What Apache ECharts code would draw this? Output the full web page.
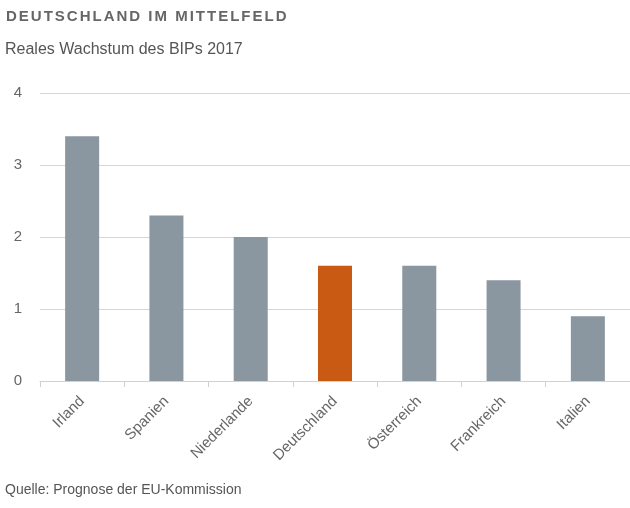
<!DOCTYPE html>
<html><head><meta charset="utf-8">
<script src="https://cdn.jsdelivr.net/npm/echarts@6/dist/echarts.min.js"></script>
<style>
html,body{margin:0;padding:0;background:#fff}
#wrap{position:relative;width:630px;height:508px}
#c{width:630px;height:508px}
#t{position:absolute;left:6px;top:7px;font:bold 15px 'Liberation Sans',Arial,sans-serif;letter-spacing:2px;color:#666;white-space:nowrap}
</style>
</head><body><div id="wrap"><div id="c"></div><div id="t">DEUTSCHLAND IM MITTELFELD</div></div>
<script>
var categories = ['Irland','Spanien','Niederlande','Deutschland','Österreich','Frankreich','Italien'];
var values = [3.4, 2.3, 2.0, 1.6, 1.6, 1.4, 0.9];
var highlight = 'Deutschland';
var yTicks = [0,1,2,3,4];
var chart = echarts.init(document.getElementById('c'));
var ff = 'Liberation Sans, Arial, sans-serif';
chart.setOption({
  animation:false,
  textStyle:{fontFamily:ff},
  title:[
    {text:'Reales Wachstum des BIPs 2017',left:5,top:42,padding:0,textStyle:{fontSize:16,fontWeight:'normal',color:'#555',fontFamily:ff}},
    {text:'Quelle: Prognose der EU-Kommission',left:5,top:483,padding:0,textStyle:{fontSize:14,fontWeight:'normal',color:'#555',fontFamily:ff}}
  ],
  grid:{left:40,top:93,width:595,height:288,containLabel:false},
  xAxis:{type:'category',data:categories,
    axisLine:{lineStyle:{color:'#d4d0ca'}},
    axisTick:{show:true,length:6,lineStyle:{color:'#d4d0ca'}},
    axisLabel:{rotate:45,margin:18,fontSize:15,color:'#666'}},
  yAxis:{type:'value',min:yTicks[0],max:yTicks[yTicks.length-1],interval:1,
    axisLine:{show:false},axisTick:{show:false},
    splitLine:{lineStyle:{color:'#d9d6d0'}},
    axisLabel:{fontSize:15,color:'#666',margin:18}},
  series:[{type:'bar',barWidth:34,
    data:values.map(function(v,i){return {value:v,itemStyle:{color:categories[i]===highlight?'#c85a13':'#8a96a0'}};})
  }]
});
</script></body></html>
